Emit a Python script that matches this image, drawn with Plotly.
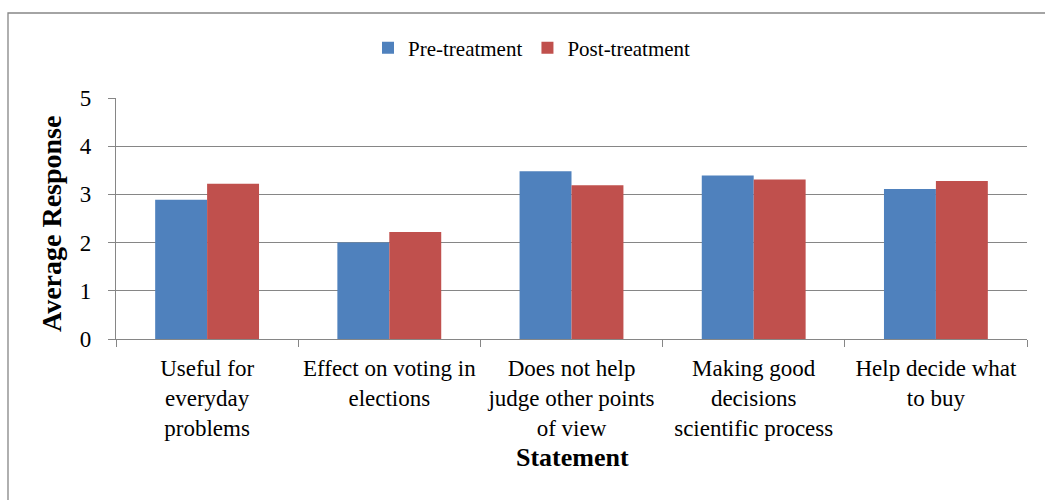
import plotly.graph_objects as go

# Survey statements (category axis) and mean responses
categories = [
    "Useful for<br>everyday<br>problems",
    "Effect on voting in<br>elections",
    "Does not help<br>judge other points<br>of view",
    "Making good<br>decisions<br>scientific process",
    "Help decide what<br>to buy",
]
pre_treatment = [2.89, 2.00, 3.48, 3.39, 3.11]
post_treatment = [3.22, 2.22, 3.19, 3.31, 3.28]
y_ticks = [0, 1, 2, 3, 4, 5]

FONT = "Liberation Serif, Times New Roman, serif"
GRAY = "#868686"
W, H = 1045, 500
ML, MR, MT, MB = 116, 18, 98, 161
PW, PH = W - ML - MR, H - MT - MB


def px_to_paper(x_px, y_px):
    return (x_px - ML) / PW, (H - MB - y_px) / PH


fig = go.Figure()
fig.add_trace(go.Bar(name="Pre-treatment", x=categories, y=pre_treatment,
                     marker=dict(color="#4F81BD", line=dict(width=0))))
fig.add_trace(go.Bar(name="Post-treatment", x=categories, y=post_treatment,
                     marker=dict(color="#C0504D", line=dict(width=0))))

# outer chart frame (only top and left edges fall inside the page)
x0, y0 = px_to_paper(8, 520)
x1, y1 = px_to_paper(1060, 13)
fig.add_shape(type="rect", xref="paper", yref="paper", x0=x0, y0=y0, x1=x1, y1=y1,
              line=dict(color=GRAY, width=1.3), fillcolor="rgba(0,0,0,0)", layer="below")

# axis titles
tx, ty = px_to_paper(572, 457)
fig.add_annotation(text="<b>Statement</b>", xref="paper", yref="paper", x=tx, y=ty,
                   xanchor="center", yanchor="middle", showarrow=False,
                   font=dict(size=26, family=FONT, color="black"))
tx, ty = px_to_paper(51, 224)
fig.add_annotation(text="<b>Average Response</b>", xref="paper", yref="paper", x=tx, y=ty,
                   xanchor="center", yanchor="middle", showarrow=False, textangle=-90,
                   font=dict(size=28, family=FONT, color="black"))

lx, ly = px_to_paper(532, 48)
fig.update_layout(
    width=W, height=H,
    margin=dict(l=ML, r=MR, t=MT, b=MB, pad=0),
    paper_bgcolor="white", plot_bgcolor="white",
    font=dict(family=FONT, color="black"),
    barmode="group", bargap=0.43, bargroupgap=0,
    showlegend=True,
    legend=dict(orientation="h", x=lx, y=ly, xanchor="center", yanchor="middle",
                font=dict(size=21, family=FONT), bgcolor="rgba(0,0,0,0)",
                traceorder="normal"),
    xaxis=dict(
        type="category", showline=True, linecolor=GRAY, linewidth=1.3,
        ticks="outside", tickson="boundaries", ticklen=7, tickcolor=GRAY, tickwidth=1.3,
        tickfont=dict(size=23, family=FONT), tickangle=0, showgrid=False,
        ticklabelstandoff=8, automargin=False,
    ),
    yaxis=dict(
        range=[0, 5], tickvals=y_ticks, showline=True, linecolor=GRAY, linewidth=1.3,
        ticks="outside", ticklen=7, tickcolor=GRAY, tickwidth=1.3,
        showgrid=True, gridcolor=GRAY, gridwidth=1.3, zeroline=False,
        tickfont=dict(size=23, family=FONT), ticklabelstandoff=12,
        automargin=False,
    ),
)

fig.write_html("out.html")
